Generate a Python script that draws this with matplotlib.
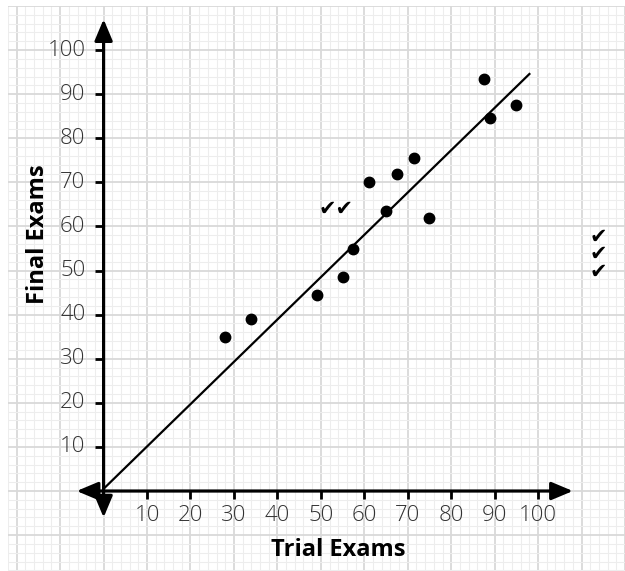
import matplotlib
matplotlib.use("Agg")
import matplotlib.pyplot as plt
import numpy as np
from matplotlib.patches import FancyArrowPatch

# ---- data ----
trial_scores = [28, 34, 49, 55, 57.5, 61, 65, 67.5, 71.5, 75, 87.5, 89, 95]
final_scores = [35, 39, 44.5, 48.5, 55, 70, 63.5, 72, 75.5, 62, 93.5, 84.5, 87.5]
fit_slope = 0.96
fit_intercept = 0.5
fit_x_range = [0, 98]
tick_values = [10, 20, 30, 40, 50, 60, 70, 80, 90, 100]
x_label = "Trial Exams"
y_label = "Final Exams"

W, H = 625, 571
fig = plt.figure(figsize=(W / 100, H / 100), dpi=100)
# axes occupies pixel box left=8, top=6, right=625, bottom=571
L, T, R, B = 8, 6, 625, 571
ax = fig.add_axes([L / W, (H - B) / H, (R - L) / W, (B - T) / H])

# pixel mapping: origin at (99, 491), 4.4 px/unit x, 4.41 px/unit y
ox, oy, sx, sy = 99, 491, 4.4, 4.41
ax.set_xlim((L - ox) / sx, (R - ox) / sx)
ax.set_ylim((oy - B) / sy, (oy - T) / sy)
for s in ax.spines.values():
    s.set_visible(False)
ax.set_xticks(np.arange(-20, 121, 10))
ax.set_yticks(np.arange(-10, 111, 10))
ax.set_xticks(np.arange(-22, 121, 2), minor=True)
ax.set_yticks(np.arange(-18, 111, 2), minor=True)
ax.tick_params(which="both", length=0, labelbottom=False, labelleft=False)
ax.grid(which="minor", color="#ededed", linewidth=0.8, zorder=0)
ax.grid(which="major", color="#d9d9d9", linewidth=1.3, zorder=0)
ax.set_axisbelow(True)

axis_kw = dict(arrowstyle="<|-|>,head_length=1.0,head_width=0.42",
               mutation_scale=13, color="black", linewidth=2.3,
               shrinkA=0, shrinkB=0, zorder=3)
ax.add_patch(FancyArrowPatch((-6.2, 0), (108, 0), **axis_kw))
ax.add_patch(FancyArrowPatch((0, -6), (0, 107), **axis_kw))

tick_font = dict(family=["Open Sans", "DejaVu Sans"], fontsize=16,
                 fontweight="light", color="#333333")
for v in tick_values:
    ax.plot([v, v], [0, -1.8], color="black", lw=2.0, zorder=3, solid_capstyle="butt")
    ax.plot([-2.0, 0], [v, v], color="black", lw=2.0, zorder=3, solid_capstyle="butt")
    ax.text(v, -5.5, str(v), ha="center", va="center", **tick_font)
    ax.text(-4.2, v, str(v), ha="right", va="center", **tick_font)

# regression line
fx = np.array(fit_x_range, dtype=float)
ax.plot(fx, fit_intercept + fit_slope * fx, color="black", lw=1.6, zorder=4)

# data points
ax.plot(trial_scores, final_scores, "o", color="black", markersize=7.5, zorder=5)

label_font = dict(family=["Open Sans", "DejaVu Sans"], fontsize=17,
                  fontweight="bold", color="black")
ax.text(54.1, -13.4, x_label, ha="center", va="center", **label_font)
ax.text(-15.2, 58.3, y_label, ha="center", va="center", rotation=90, **label_font)

# check-mark annotations
check_font = dict(family=["DejaVu Sans"], fontsize=15, color="black",
                  ha="center", va="center")
ax.text(53.4, 63.9, "\u2714\u2714", **check_font)
ax.text(113.9, 53.7, "\u2714\n\u2714\n\u2714", linespacing=0.82, **check_font)

fig.savefig("out.png", dpi=100, facecolor="white")
